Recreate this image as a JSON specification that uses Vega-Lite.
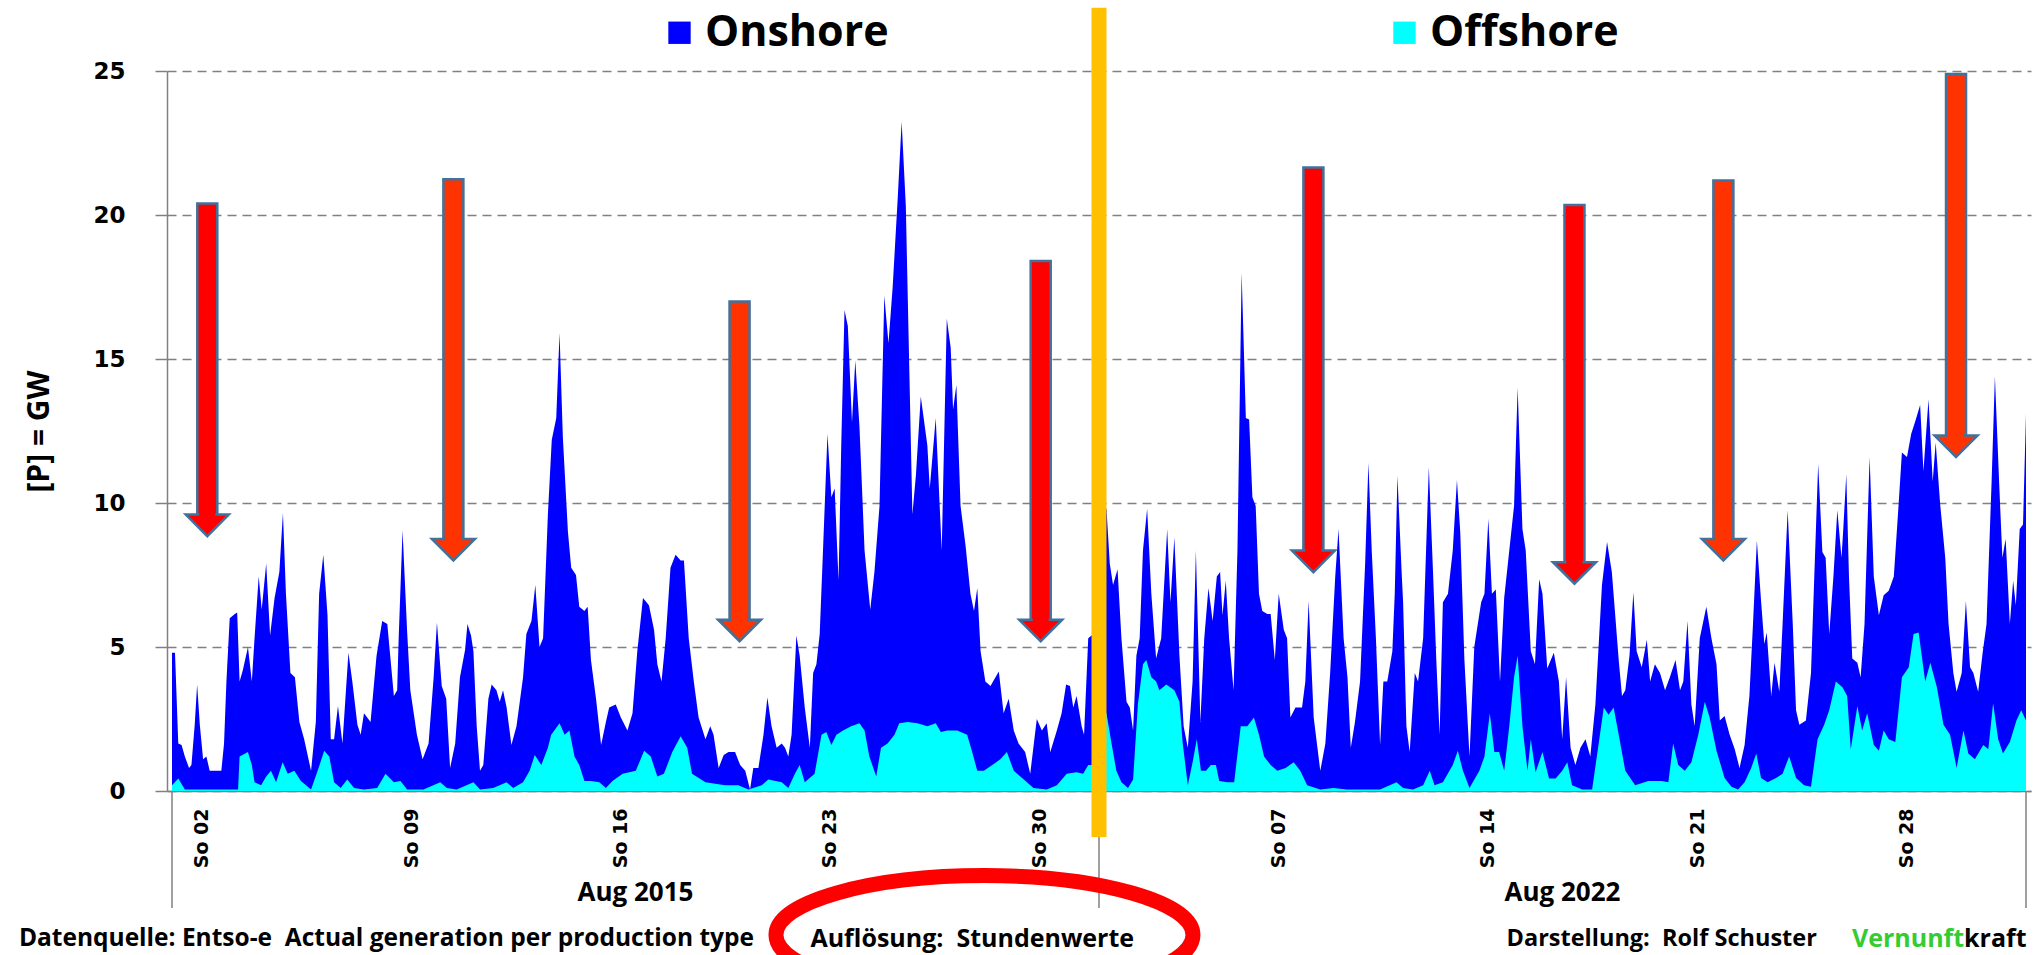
{
"$schema": "https://vega.github.io/schema/vega-lite/v6.json",
"width": 1864,
"height": 720,
"autosize": {"type": "none"},
"padding": {"left": 167, "top": 71, "right": 13, "bottom": 164},
"background": "white",
"config": {"view": {"stroke": null}},
"datasets": {
"total": [
{"d":0,"gw":4.8},{"d":0.1,"gw":4.8},{"d":0.21,"gw":1.65},{"d":0.32,"gw":1.6},{"d":0.43,"gw":1.2},{"d":0.57,"gw":0.8},{"d":0.65,"gw":0.9},{"d":0.76,"gw":2.3},{"d":0.84,"gw":3.7},{"d":0.93,"gw":2.3},
{"d":1.04,"gw":1.1},{"d":1.15,"gw":1.2},{"d":1.26,"gw":0.7},{"d":1.43,"gw":0.7},{"d":1.65,"gw":0.7},{"d":1.74,"gw":1.65},{"d":1.82,"gw":3.8},{"d":1.93,"gw":6.0},
{"d":2.1,"gw":6.15},{"d":2.18,"gw":6.2},{"d":2.26,"gw":3.8},{"d":2.37,"gw":4.2},{"d":2.54,"gw":5.0},{"d":2.67,"gw":3.8},{"d":2.76,"gw":5.3},{"d":2.9,"gw":7.45},
{"d":3.0,"gw":6.3},{"d":3.15,"gw":7.9},{"d":3.28,"gw":5.4},{"d":3.43,"gw":6.7},{"d":3.59,"gw":7.6},{"d":3.71,"gw":9.65},{"d":3.81,"gw":6.85},{"d":3.96,"gw":4.1},
{"d":4.11,"gw":3.95},{"d":4.26,"gw":2.4},{"d":4.42,"gw":1.8},{"d":4.65,"gw":0.7},{"d":4.81,"gw":2.4},{"d":4.92,"gw":6.85},
{"d":5.06,"gw":8.2},{"d":5.2,"gw":6.1},{"d":5.31,"gw":1.8},{"d":5.42,"gw":1.8},{"d":5.55,"gw":2.95},{"d":5.7,"gw":1.65},{"d":5.9,"gw":4.8},
{"d":6.03,"gw":3.8},{"d":6.2,"gw":2.3},{"d":6.31,"gw":1.95},{"d":6.42,"gw":2.7},{"d":6.64,"gw":2.4},{"d":6.84,"gw":4.7},
{"d":7.03,"gw":5.9},{"d":7.2,"gw":5.8},{"d":7.42,"gw":3.3},{"d":7.53,"gw":3.5},{"d":7.58,"gw":5.3},{"d":7.71,"gw":9.05},{"d":7.86,"gw":5.6},{"d":7.97,"gw":3.5},
{"d":8.19,"gw":1.95},{"d":8.38,"gw":1.1},{"d":8.58,"gw":1.65},{"d":8.75,"gw":3.95},{"d":8.86,"gw":5.85},
{"d":9.02,"gw":3.65},{"d":9.17,"gw":3.2},{"d":9.3,"gw":0.8},{"d":9.47,"gw":1.65},{"d":9.63,"gw":3.95},{"d":9.8,"gw":4.9},{"d":9.88,"gw":5.8},
{"d":10.0,"gw":5.4},{"d":10.08,"gw":4.85},{"d":10.19,"gw":2.25},{"d":10.3,"gw":0.7},{"d":10.41,"gw":0.9},{"d":10.58,"gw":3.2},{"d":10.69,"gw":3.7},{"d":10.85,"gw":3.5},{"d":10.96,"gw":3.1},
{"d":11.07,"gw":3.5},{"d":11.19,"gw":2.9},{"d":11.35,"gw":1.6},{"d":11.52,"gw":2.25},{"d":11.74,"gw":3.95},{"d":11.85,"gw":5.45},
{"d":12.02,"gw":5.9},{"d":12.15,"gw":7.15},{"d":12.29,"gw":5.0},{"d":12.41,"gw":5.3},{"d":12.57,"gw":9.6},{"d":12.7,"gw":12.2},{"d":12.85,"gw":12.95},{"d":12.96,"gw":15.9},
{"d":13.07,"gw":12.3},{"d":13.24,"gw":9.0},{"d":13.35,"gw":7.75},{"d":13.51,"gw":7.5},{"d":13.62,"gw":6.4},{"d":13.79,"gw":6.25},{"d":13.9,"gw":6.4},
{"d":14.01,"gw":4.55},{"d":14.18,"gw":3.2},{"d":14.35,"gw":1.6},{"d":14.51,"gw":2.4},{"d":14.62,"gw":2.9},{"d":14.84,"gw":3.0},
{"d":15.01,"gw":2.55},{"d":15.23,"gw":2.1},{"d":15.4,"gw":2.7},{"d":15.56,"gw":4.85},{"d":15.75,"gw":6.7},{"d":15.95,"gw":6.45},
{"d":16.12,"gw":5.6},{"d":16.23,"gw":4.4},{"d":16.37,"gw":3.8},{"d":16.51,"gw":5.3},{"d":16.67,"gw":7.75},{"d":16.84,"gw":8.2},
{"d":17.01,"gw":8.0},{"d":17.12,"gw":8.0},{"d":17.28,"gw":5.3},{"d":17.45,"gw":3.8},{"d":17.61,"gw":2.55},{"d":17.84,"gw":1.8},
{"d":18.0,"gw":2.25},{"d":18.11,"gw":1.95},{"d":18.28,"gw":0.8},{"d":18.45,"gw":1.25},{"d":18.61,"gw":1.35},{"d":18.83,"gw":1.35},
{"d":19.0,"gw":0.9},{"d":19.17,"gw":0.7},{"d":19.33,"gw":0.05},{"d":19.44,"gw":0.8},{"d":19.61,"gw":0.8},{"d":19.78,"gw":1.95},{"d":19.91,"gw":3.25},
{"d":20.05,"gw":2.25},{"d":20.22,"gw":1.5},{"d":20.39,"gw":1.65},{"d":20.5,"gw":1.5},{"d":20.61,"gw":1.2},{"d":20.72,"gw":1.95},{"d":20.88,"gw":5.4},{"d":20.99,"gw":4.7},
{"d":21.16,"gw":2.9},{"d":21.33,"gw":1.5},{"d":21.44,"gw":4.1},{"d":21.55,"gw":4.4},{"d":21.66,"gw":5.45},{"d":21.77,"gw":8.35},{"d":21.92,"gw":12.4},
{"d":22.05,"gw":10.2},{"d":22.16,"gw":10.5},{"d":22.29,"gw":7.3},{"d":22.38,"gw":12.0},{"d":22.49,"gw":16.7},{"d":22.6,"gw":16.15},{"d":22.74,"gw":12.8},{"d":22.85,"gw":14.95},{"d":22.99,"gw":12.65},
{"d":23.16,"gw":8.35},{"d":23.35,"gw":6.3},{"d":23.49,"gw":7.6},{"d":23.66,"gw":9.9},{"d":23.82,"gw":17.2},{"d":23.96,"gw":15.55},
{"d":24.1,"gw":17.5},{"d":24.27,"gw":20.6},{"d":24.4,"gw":23.25},{"d":24.54,"gw":20.3},{"d":24.65,"gw":14.95},{"d":24.76,"gw":9.6},{"d":24.88,"gw":11.0},
{"d":25.04,"gw":13.7},{"d":25.26,"gw":12.0},{"d":25.34,"gw":10.5},{"d":25.54,"gw":12.95},{"d":25.74,"gw":8.35},{"d":25.91,"gw":16.4},
{"d":26.04,"gw":15.4},{"d":26.12,"gw":13.25},{"d":26.23,"gw":14.1},{"d":26.37,"gw":9.9},{"d":26.54,"gw":8.5},{"d":26.7,"gw":6.85},{"d":26.82,"gw":6.25},{"d":26.93,"gw":7.05},
{"d":27.04,"gw":4.85},{"d":27.2,"gw":3.8},{"d":27.37,"gw":3.65},{"d":27.65,"gw":4.15},{"d":27.81,"gw":2.7},{"d":27.98,"gw":3.2},
{"d":28.15,"gw":2.1},{"d":28.31,"gw":1.65},{"d":28.53,"gw":1.35},{"d":28.7,"gw":0.6},{"d":28.92,"gw":2.5},
{"d":29.09,"gw":2.1},{"d":29.25,"gw":2.35},{"d":29.37,"gw":1.35},{"d":29.59,"gw":2.1},{"d":29.75,"gw":2.7},{"d":29.9,"gw":3.7},
{"d":30.03,"gw":3.65},{"d":30.14,"gw":2.9},{"d":30.25,"gw":3.3},{"d":30.42,"gw":2.25},{"d":30.5,"gw":1.95},{"d":30.64,"gw":5.3},{"d":30.81,"gw":5.45},{"d":30.97,"gw":5.5},
{"d":31.03,"gw":10.0},{"d":31.25,"gw":9.8},{"d":31.36,"gw":7.9},{"d":31.47,"gw":7.15},{"d":31.62,"gw":7.7},{"d":31.75,"gw":5.3},{"d":31.92,"gw":3.1},
{"d":32.03,"gw":2.9},{"d":32.14,"gw":2.1},{"d":32.25,"gw":4.7},{"d":32.36,"gw":5.3},{"d":32.47,"gw":8.35},{"d":32.61,"gw":9.8},{"d":32.75,"gw":6.85},{"d":32.91,"gw":4.6},
{"d":33.08,"gw":5.3},{"d":33.28,"gw":9.1},{"d":33.39,"gw":6.55},{"d":33.52,"gw":8.8},{"d":33.69,"gw":4.7},{"d":33.83,"gw":2.25},{"d":33.97,"gw":1.5},
{"d":34.13,"gw":3.8},{"d":34.24,"gw":8.35},{"d":34.39,"gw":2.4},{"d":34.52,"gw":5.3},{"d":34.66,"gw":7.05},{"d":34.8,"gw":5.9},{"d":34.94,"gw":7.45},
{"d":35.05,"gw":7.6},{"d":35.13,"gw":6.1},{"d":35.24,"gw":7.3},{"d":35.35,"gw":5.3},{"d":35.5,"gw":3.5},{"d":35.63,"gw":8.35},{"d":35.77,"gw":18.0},{"d":35.91,"gw":12.95},
{"d":36.02,"gw":12.9},{"d":36.13,"gw":10.2},{"d":36.24,"gw":9.9},{"d":36.35,"gw":6.85},{"d":36.46,"gw":6.25},{"d":36.63,"gw":6.15},{"d":36.74,"gw":6.15},{"d":36.88,"gw":4.55},
{"d":37.01,"gw":6.85},{"d":37.18,"gw":5.6},{"d":37.29,"gw":5.3},{"d":37.4,"gw":2.55},{"d":37.57,"gw":2.9},{"d":37.79,"gw":2.9},{"d":37.9,"gw":3.8},
{"d":38.01,"gw":6.6},{"d":38.18,"gw":2.55},{"d":38.4,"gw":0.7},{"d":38.57,"gw":1.65},{"d":38.73,"gw":4.1},{"d":38.9,"gw":7.45},
{"d":39.01,"gw":9.1},{"d":39.18,"gw":5.3},{"d":39.31,"gw":3.95},{"d":39.42,"gw":1.5},{"d":39.56,"gw":2.4},{"d":39.73,"gw":3.8},{"d":39.9,"gw":7.9},
{"d":40.01,"gw":11.4},{"d":40.12,"gw":8.35},{"d":40.26,"gw":5.3},{"d":40.4,"gw":1.6},{"d":40.51,"gw":3.8},{"d":40.64,"gw":3.8},{"d":40.81,"gw":4.85},{"d":40.89,"gw":6.85},{"d":40.98,"gw":10.95},
{"d":41.12,"gw":7.6},{"d":41.17,"gw":6.55},{"d":41.28,"gw":2.25},{"d":41.39,"gw":1.35},{"d":41.56,"gw":4.1},{"d":41.67,"gw":3.8},{"d":41.84,"gw":5.3},
{"d":42.03,"gw":11.25},{"d":42.17,"gw":7.6},{"d":42.28,"gw":4.55},{"d":42.39,"gw":1.95},{"d":42.5,"gw":6.55},{"d":42.67,"gw":6.85},{"d":42.83,"gw":8.35},{"d":42.97,"gw":10.8},
{"d":43.08,"gw":9.0},{"d":43.22,"gw":4.55},{"d":43.39,"gw":1.2},{"d":43.55,"gw":5.0},{"d":43.78,"gw":6.55},{"d":43.89,"gw":6.85},
{"d":44.02,"gw":9.45},{"d":44.14,"gw":6.85},{"d":44.27,"gw":7.0},{"d":44.41,"gw":3.8},{"d":44.55,"gw":6.7},{"d":44.72,"gw":8.35},{"d":44.88,"gw":9.9},
{"d":45.0,"gw":14.0},{"d":45.16,"gw":9.1},{"d":45.27,"gw":8.35},{"d":45.44,"gw":4.85},{"d":45.58,"gw":4.4},{"d":45.72,"gw":7.35},{"d":45.83,"gw":6.85},{"d":45.99,"gw":4.25},
{"d":46.21,"gw":4.8},{"d":46.38,"gw":3.8},{"d":46.49,"gw":1.8},{"d":46.62,"gw":3.95},{"d":46.77,"gw":1.5},{"d":46.93,"gw":0.9},
{"d":47.1,"gw":1.5},{"d":47.27,"gw":1.8},{"d":47.43,"gw":1.2},{"d":47.6,"gw":3.0},{"d":47.82,"gw":7.15},{"d":47.99,"gw":8.65},
{"d":48.15,"gw":7.6},{"d":48.38,"gw":4.55},{"d":48.49,"gw":3.3},{"d":48.6,"gw":3.5},{"d":48.74,"gw":4.7},{"d":48.87,"gw":6.9},{"d":48.98,"gw":4.85},
{"d":49.15,"gw":4.3},{"d":49.32,"gw":5.25},{"d":49.43,"gw":3.8},{"d":49.59,"gw":4.4},{"d":49.76,"gw":4.1},{"d":49.93,"gw":3.5},
{"d":50.09,"gw":3.95},{"d":50.28,"gw":4.55},{"d":50.43,"gw":3.5},{"d":50.54,"gw":3.8},{"d":50.68,"gw":5.9},{"d":50.81,"gw":3.0},{"d":50.92,"gw":2.25},
{"d":51.09,"gw":5.3},{"d":51.31,"gw":6.4},{"d":51.48,"gw":5.3},{"d":51.65,"gw":4.4},{"d":51.76,"gw":2.45},{"d":51.92,"gw":2.6},
{"d":52.09,"gw":1.95},{"d":52.26,"gw":1.45},{"d":52.42,"gw":0.8},{"d":52.59,"gw":1.6},{"d":52.75,"gw":3.3},{"d":52.87,"gw":5.8},
{"d":53.0,"gw":8.7},{"d":53.14,"gw":6.6},{"d":53.25,"gw":5.1},{"d":53.33,"gw":5.5},{"d":53.48,"gw":3.3},{"d":53.59,"gw":4.45},{"d":53.75,"gw":3.45},{"d":53.86,"gw":5.8},
{"d":54.03,"gw":9.75},{"d":54.2,"gw":5.8},{"d":54.31,"gw":2.8},{"d":54.42,"gw":2.3},{"d":54.64,"gw":2.45},{"d":54.81,"gw":4.1},{"d":54.92,"gw":7.45},
{"d":55.05,"gw":11.35},{"d":55.19,"gw":8.3},{"d":55.3,"gw":8.1},{"d":55.42,"gw":5.45},{"d":55.56,"gw":7.45},{"d":55.69,"gw":9.75},{"d":55.83,"gw":8.1},{"d":55.89,"gw":9.1},{"d":55.99,"gw":11.0},
{"d":56.08,"gw":7.45},{"d":56.19,"gw":4.6},{"d":56.36,"gw":4.45},{"d":56.47,"gw":3.95},{"d":56.6,"gw":5.8},{"d":56.77,"gw":11.6},{"d":56.91,"gw":7.45},
{"d":57.08,"gw":6.1},{"d":57.24,"gw":6.8},{"d":57.41,"gw":6.95},{"d":57.58,"gw":7.45},{"d":57.74,"gw":9.95},{"d":57.85,"gw":11.75},
{"d":58.02,"gw":11.6},{"d":58.16,"gw":12.4},{"d":58.3,"gw":12.85},{"d":58.46,"gw":13.4},{"d":58.57,"gw":11.1},{"d":58.74,"gw":13.6},{"d":58.88,"gw":10.75},{"d":58.98,"gw":12.1},
{"d":59.13,"gw":9.95},{"d":59.3,"gw":8.1},{"d":59.41,"gw":5.8},{"d":59.57,"gw":4.1},{"d":59.68,"gw":3.45},{"d":59.85,"gw":4.1},{"d":59.99,"gw":6.6},
{"d":60.13,"gw":4.3},{"d":60.24,"gw":4.1},{"d":60.4,"gw":3.45},{"d":60.55,"gw":4.8},{"d":60.68,"gw":5.8},{"d":60.85,"gw":10.75},{"d":60.96,"gw":14.4},
{"d":61.1,"gw":10.75},{"d":61.21,"gw":8.1},{"d":61.32,"gw":8.75},{"d":61.46,"gw":5.8},{"d":61.57,"gw":7.3},{"d":61.66,"gw":6.45},{"d":61.79,"gw":9.1},{"d":61.9,"gw":9.25},{"d":62.0,"gw":13.1}
],
"offshore": [
{"d":0,"gw":0.2},{"d":0.21,"gw":0.43},{"d":0.43,"gw":0.05},{"d":2.21,"gw":0.05},{"d":2.26,"gw":1.2},{"d":2.54,"gw":1.35},{"d":2.67,"gw":0.9},{"d":2.76,"gw":0.3},{"d":2.98,"gw":0.2},
{"d":3.15,"gw":0.5},{"d":3.31,"gw":0.7},{"d":3.48,"gw":0.3},{"d":3.7,"gw":1.0},{"d":3.87,"gw":0.6},{"d":4.09,"gw":0.7},{"d":4.31,"gw":0.35},{"d":4.65,"gw":0.05},{"d":4.87,"gw":0.7},
{"d":5.09,"gw":1.4},{"d":5.26,"gw":1.2},{"d":5.42,"gw":0.3},{"d":5.64,"gw":0.1},{"d":5.86,"gw":0.4},{"d":6.09,"gw":0.1},{"d":6.42,"gw":0.05},{"d":6.86,"gw":0.1},
{"d":7.14,"gw":0.6},{"d":7.42,"gw":0.3},{"d":7.64,"gw":0.35},{"d":7.86,"gw":0.05},{"d":8.41,"gw":0.05},{"d":8.97,"gw":0.3},{"d":9.19,"gw":0.1},{"d":9.52,"gw":0.05},
{"d":10.08,"gw":0.3},{"d":10.3,"gw":0.05},{"d":10.74,"gw":0.1},{"d":11.19,"gw":0.3},{"d":11.41,"gw":0.1},{"d":11.74,"gw":0.3},{"d":11.96,"gw":0.7},
{"d":12.13,"gw":1.25},{"d":12.35,"gw":0.9},{"d":12.57,"gw":1.5},{"d":12.68,"gw":1.95},{"d":12.96,"gw":2.35},{"d":13.13,"gw":1.95},{"d":13.29,"gw":2.1},{"d":13.46,"gw":1.2},
{"d":13.62,"gw":0.9},{"d":13.79,"gw":0.35},{"d":14.01,"gw":0.35},{"d":14.29,"gw":0.3},{"d":14.51,"gw":0.1},{"d":14.73,"gw":0.35},{"d":15.07,"gw":0.6},{"d":15.51,"gw":0.7},
{"d":15.79,"gw":1.4},{"d":16.01,"gw":1.2},{"d":16.23,"gw":0.5},{"d":16.45,"gw":0.6},{"d":16.73,"gw":1.35},{"d":17.01,"gw":1.9},{"d":17.23,"gw":1.5},{"d":17.39,"gw":0.6},
{"d":17.84,"gw":0.3},{"d":18.5,"gw":0.2},{"d":18.94,"gw":0.2},{"d":19.28,"gw":0.05},{"d":19.72,"gw":0.2},{"d":19.94,"gw":0.4},{"d":20.39,"gw":0.3},{"d":20.61,"gw":0.1},
{"d":20.83,"gw":0.6},{"d":20.99,"gw":0.9},{"d":21.16,"gw":0.3},{"d":21.49,"gw":0.6},{"d":21.72,"gw":1.95},{"d":21.88,"gw":2.05},{"d":22.05,"gw":1.6},{"d":22.22,"gw":1.95},
{"d":22.44,"gw":2.1},{"d":22.71,"gw":2.25},{"d":22.99,"gw":2.35},{"d":23.16,"gw":2.1},{"d":23.32,"gw":1.2},{"d":23.55,"gw":0.5},{"d":23.71,"gw":1.5},{"d":23.93,"gw":1.65},
{"d":24.16,"gw":1.95},{"d":24.32,"gw":2.35},{"d":24.6,"gw":2.4},{"d":24.93,"gw":2.35},{"d":25.26,"gw":2.25},{"d":25.54,"gw":2.35},{"d":25.71,"gw":2.05},{"d":25.93,"gw":2.1},
{"d":26.26,"gw":2.1},{"d":26.59,"gw":1.95},{"d":26.76,"gw":1.35},{"d":26.93,"gw":0.7},{"d":27.15,"gw":0.7},{"d":27.43,"gw":0.9},{"d":27.7,"gw":1.1},{"d":27.92,"gw":1.35},
{"d":28.15,"gw":0.7},{"d":28.37,"gw":0.5},{"d":28.59,"gw":0.3},{"d":28.81,"gw":0.1},{"d":29.25,"gw":0.05},{"d":29.59,"gw":0.2},{"d":29.92,"gw":0.6},{"d":30.25,"gw":0.65},
{"d":30.47,"gw":0.6},{"d":30.64,"gw":0.9},{"d":30.97,"gw":0.9},{"d":31.03,"gw":3.0},{"d":31.25,"gw":2.7},{"d":31.42,"gw":1.65},{"d":31.58,"gw":0.7},{"d":31.75,"gw":0.3},
{"d":31.97,"gw":0.1},{"d":32.14,"gw":0.4},{"d":32.3,"gw":3.0},{"d":32.47,"gw":4.4},{"d":32.58,"gw":4.55},{"d":32.75,"gw":3.95},{"d":32.91,"gw":3.8},{"d":33.02,"gw":3.5},
{"d":33.25,"gw":3.7},{"d":33.52,"gw":3.5},{"d":33.69,"gw":3.1},{"d":33.8,"gw":1.65},{"d":33.97,"gw":0.2},{"d":34.13,"gw":1.0},{"d":34.27,"gw":1.8},{"d":34.41,"gw":0.7},
{"d":34.58,"gw":0.7},{"d":34.74,"gw":0.9},{"d":34.91,"gw":0.9},{"d":35.02,"gw":0.35},{"d":35.3,"gw":0.3},{"d":35.52,"gw":0.3},{"d":35.74,"gw":2.25},{"d":35.96,"gw":2.25},
{"d":36.18,"gw":2.55},{"d":36.35,"gw":1.95},{"d":36.52,"gw":1.2},{"d":36.74,"gw":0.9},{"d":36.96,"gw":0.7},{"d":37.24,"gw":0.8},{"d":37.51,"gw":1.0},{"d":37.73,"gw":0.7},
{"d":37.96,"gw":0.2},{"d":38.4,"gw":0.05},{"d":38.84,"gw":0.1},{"d":39.29,"gw":0.05},{"d":40.4,"gw":0.05},{"d":40.95,"gw":0.3},{"d":41.17,"gw":0.1},{"d":41.5,"gw":0.05},
{"d":41.84,"gw":0.2},{"d":42.06,"gw":0.7},{"d":42.22,"gw":0.2},{"d":42.5,"gw":0.3},{"d":42.83,"gw":0.9},{"d":43.0,"gw":1.4},{"d":43.17,"gw":0.7},{"d":43.39,"gw":0.1},
{"d":43.72,"gw":0.7},{"d":43.89,"gw":1.2},{"d":44.07,"gw":2.7},{"d":44.22,"gw":1.35},{"d":44.38,"gw":1.35},{"d":44.55,"gw":0.7},{"d":44.72,"gw":2.25},{"d":44.88,"gw":3.95},
{"d":45.0,"gw":4.7},{"d":45.16,"gw":2.25},{"d":45.33,"gw":0.7},{"d":45.44,"gw":1.8},{"d":45.6,"gw":0.65},{"d":45.83,"gw":1.35},{"d":46.05,"gw":0.43},{"d":46.27,"gw":0.43},
{"d":46.49,"gw":0.7},{"d":46.66,"gw":1.0},{"d":46.82,"gw":0.2},{"d":47.16,"gw":0.05},{"d":47.49,"gw":0.05},{"d":47.71,"gw":1.65},{"d":47.88,"gw":2.9},{"d":48.04,"gw":2.65},
{"d":48.21,"gw":2.9},{"d":48.38,"gw":1.95},{"d":48.6,"gw":0.7},{"d":48.93,"gw":0.2},{"d":49.37,"gw":0.35},{"d":49.82,"gw":0.35},{"d":50.04,"gw":0.3},{"d":50.2,"gw":1.65},
{"d":50.37,"gw":0.9},{"d":50.59,"gw":0.7},{"d":50.81,"gw":1.0},{"d":51.04,"gw":1.95},{"d":51.26,"gw":3.1},{"d":51.42,"gw":2.55},{"d":51.65,"gw":1.4},{"d":51.92,"gw":0.45},
{"d":52.15,"gw":0.15},{"d":52.37,"gw":0.05},{"d":52.59,"gw":0.3},{"d":52.81,"gw":0.8},{"d":52.98,"gw":1.3},{"d":53.14,"gw":0.45},{"d":53.36,"gw":0.3},{"d":53.64,"gw":0.45},
{"d":53.86,"gw":0.6},{"d":54.08,"gw":1.2},{"d":54.31,"gw":0.45},{"d":54.58,"gw":0.2},{"d":54.81,"gw":0.15},{"d":55.03,"gw":1.8},{"d":55.25,"gw":2.3},{"d":55.42,"gw":2.8},
{"d":55.64,"gw":3.8},{"d":55.86,"gw":3.6},{"d":56.02,"gw":3.3},{"d":56.14,"gw":1.45},{"d":56.36,"gw":2.95},{"d":56.52,"gw":2.1},{"d":56.69,"gw":2.7},{"d":56.91,"gw":1.6},
{"d":57.08,"gw":1.4},{"d":57.24,"gw":2.1},{"d":57.41,"gw":1.8},{"d":57.63,"gw":1.7},{"d":57.85,"gw":3.95},{"d":58.08,"gw":4.3},{"d":58.24,"gw":5.45},{"d":58.41,"gw":5.5},
{"d":58.63,"gw":3.8},{"d":58.8,"gw":4.45},{"d":59.02,"gw":3.6},{"d":59.24,"gw":2.3},{"d":59.46,"gw":1.95},{"d":59.68,"gw":0.8},{"d":59.91,"gw":2.1},{"d":60.07,"gw":1.3},
{"d":60.29,"gw":1.1},{"d":60.57,"gw":1.6},{"d":60.74,"gw":1.45},{"d":60.9,"gw":3.05},{"d":61.07,"gw":1.8},{"d":61.23,"gw":1.3},{"d":61.46,"gw":1.7},{"d":61.68,"gw":2.45},
{"d":61.84,"gw":2.8},{"d":62.0,"gw":2.45}
],
"arrows": [
{"d":1.18,"top":20.4,"neck":9.6,"tip":8.85,"grp":"A"},
{"d":9.41,"top":21.24,"neck":8.75,"tip":8.0,"grp":"B"},
{"d":18.98,"top":17.0,"neck":5.95,"tip":5.2,"grp":"B"},
{"d":29.05,"top":18.4,"neck":5.95,"tip":5.2,"grp":"A"},
{"d":38.17,"top":21.65,"neck":8.35,"tip":7.6,"grp":"A"},
{"d":46.9,"top":20.35,"neck":7.95,"tip":7.2,"grp":"A"},
{"d":51.88,"top":21.2,"neck":8.75,"tip":8.0,"grp":"B"},
{"d":59.66,"top":24.9,"neck":12.35,"tip":11.6,"grp":"B"}
],
"months": [
{"d":0,"label":"Aug 2015","mid":15.5},
{"d":31,"label":"Aug 2022","mid":46.5},
{"d":62,"label":"","mid":-100}
]
},
"layer": [
{
"data": {"name": "total"},
"mark": {"type": "area", "interpolate": "linear"},
"encoding": {
"x": {"field": "d", "type": "quantitative",
"scale": {"domain": [0, 62], "nice": false, "zero": false},
"axis": {"values": [1, 8, 15, 22, 29, 37, 44, 51, 58],
"labelExpr": "'So ' + (datum.value < 31 ? ((datum.value + 1 < 10 ? '0' : '') + (datum.value + 1)) : ((datum.value - 30 < 10 ? '0' : '') + (datum.value - 30)))",
"labelAngle": 270, "labelFont": "DejaVu Sans", "labelFontWeight": "bold", "labelFontSize": 19, "labelColor": "black",
"labelPadding": 17, "ticks": false, "grid": false, "domainColor": "#808080", "domainWidth": 1.5, "title": null, "labelOverlap": false}},
"y": {"field": "gw", "type": "quantitative",
"scale": {"domain": [0, 25], "nice": false},
"axis": {"values": [0, 5, 10, 15, 20, 25], "grid": true, "gridColor": "#808080", "gridDash": [9, 6], "gridWidth": 1.5,
"domainColor": "#808080", "domainWidth": 1.5, "tickColor": "#808080", "tickSize": 12, "tickWidth": 1.5,
"labelFont": "DejaVu Sans", "labelFontWeight": "bold", "labelFontSize": 23, "labelColor": "black", "labelPadding": 30,
"title": "[P] = GW", "titleFont": "Open Sans", "titleFontWeight": "bold", "titleFontSize": 30, "titleColor": "black", "titlePadding": 38}},
"color": {"datum": "Onshore",
"scale": {"domain": ["Onshore", "Offshore"], "range": ["#0000FF", "#00FFFF"]},
"legend": {"orient": "none", "legendX": 491, "legendY": -60, "direction": "horizontal", "title": null,
"symbolType": "square", "symbolSize": 500, "symbolStrokeWidth": 0, "symbolOpacity": 1,
"labelFont": "Open Sans", "labelFontWeight": "bold", "labelFontSize": 43, "labelColor": "black",
"labelOffset": 4, "columnPadding": 494, "labelLimit": 0}}
}
},
{
"data": {"name": "offshore"},
"mark": {"type": "area", "interpolate": "linear"},
"encoding": {
"x": {"field": "d", "type": "quantitative"},
"y": {"field": "gw", "type": "quantitative"},
"color": {"datum": "Offshore"}
}
},
{
"data": {"name": "months"},
"mark": {"type": "rule", "color": "#808080", "strokeWidth": 1.5},
"encoding": {
"x": {"field": "d", "type": "quantitative"},
"y": {"datum": 0},
"y2": {"datum": -4.06}
}
},
{
"data": {"name": "months"},
"mark": {"type": "text", "font": "Open Sans", "fontWeight": "bold", "fontSize": 26, "color": "black", "baseline": "middle", "align": "center"},
"encoding": {
"x": {"field": "mid", "type": "quantitative"},
"y": {"datum": -3.54},
"text": {"field": "label"}
}
},
{
"data": {"name": "arrows"},
"mark": {"type": "bar", "width": 20, "stroke": "#41719C", "strokeWidth": 2.5, "opacity": 1},
"encoding": {
"x": {"field": "d", "type": "quantitative"},
"y": {"field": "top", "type": "quantitative"},
"y2": {"field": "neck"},
"fill": {"field": "grp", "type": "nominal", "scale": {"domain": ["A", "B"], "range": ["#FF0000", "#FF3300"]}, "legend": null}
}
},
{
"data": {"name": "arrows"},
"mark": {"type": "point", "shape": "M -1 -1 L 1 -1 L 0 0 Z", "size": 1849, "filled": true, "opacity": 1, "stroke": "#41719C", "strokeWidth": 2.5},
"encoding": {
"x": {"field": "d", "type": "quantitative"},
"y": {"field": "tip", "type": "quantitative"},
"fill": {"field": "grp", "type": "nominal", "legend": null}
}
},
{
"data": {"name": "arrows"},
"mark": {"type": "tick", "orient": "horizontal", "size": 16, "thickness": 5, "opacity": 1},
"encoding": {
"x": {"field": "d", "type": "quantitative"},
"y": {"field": "neck", "type": "quantitative"},
"fill": {"field": "grp", "type": "nominal", "legend": null}
}
},
{
"data": {"values": [{}]},
"mark": {"type": "rule", "color": "#FFC000", "strokeWidth": 15},
"encoding": {
"x": {"datum": 31},
"y": {"datum": 27.2},
"y2": {"datum": -1.6}
}
},
{
"data": {"values": [{}]},
"mark": {"type": "point", "shape": "M -1 0 A 1 0.285 0 1 1 1 0 A 1 0.285 0 1 1 -1 0 Z", "size": 173889, "filled": false, "opacity": 1, "stroke": "#FF0000", "strokeWidth": 15},
"encoding": {
"x": {"datum": 27.17},
"y": {"datum": -5.0}
}
},
{
"data": {"values": [{}]},
"mark": {"type": "text", "text": "Datenquelle: Entso-e\u00a0\u00a0Actual generation per production type", "font": "Open Sans", "fontWeight": "bold", "fontSize": 24.5, "color": "black", "align": "left", "baseline": "middle"},
"encoding": {"x": {"datum": -5.12}, "y": {"datum": -5.14}}
},
{
"data": {"values": [{}]},
"mark": {"type": "text", "text": "Auflösung:\u00a0\u00a0Stundenwerte", "font": "Open Sans", "fontWeight": "bold", "fontSize": 25, "color": "black", "align": "left", "baseline": "middle"},
"encoding": {"x": {"datum": 21.35}, "y": {"datum": -5.14}}
},
{
"data": {"values": [{}]},
"mark": {"type": "text", "text": "Darstellung:\u00a0\u00a0Rolf Schuster", "font": "Open Sans", "fontWeight": "bold", "fontSize": 23.5, "color": "black", "align": "left", "baseline": "middle"},
"encoding": {"x": {"datum": 44.63}, "y": {"datum": -5.14}}
},
{
"data": {"values": [{}]},
"mark": {"type": "text", "text": "Vernunft", "font": "Open Sans", "fontWeight": "bold", "fontSize": 25, "color": "#33CC33", "align": "right", "baseline": "middle"},
"encoding": {"x": {"datum": 59.93}, "y": {"datum": -5.14}}
},
{
"data": {"values": [{}]},
"mark": {"type": "text", "text": "kraft", "font": "Open Sans", "fontWeight": "bold", "fontSize": 25, "color": "black", "align": "left", "baseline": "middle"},
"encoding": {"x": {"datum": 59.93}, "y": {"datum": -5.14}}
}
]
}
